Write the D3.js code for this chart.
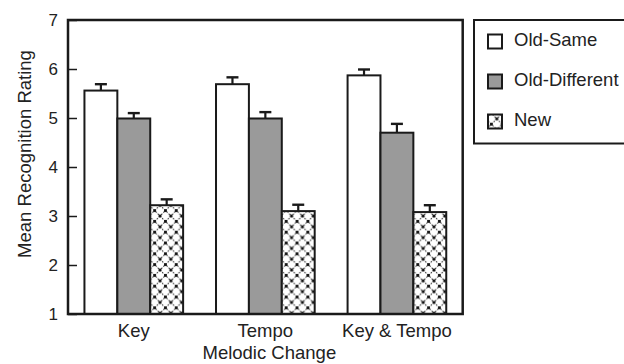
<!DOCTYPE html>
<html>
<head>
<meta charset="utf-8">
<script src="https://cdn.jsdelivr.net/npm/d3@7"></script>
<style>
  body { margin: 0; background: #fff; }
  svg text { font-family: "Liberation Sans", Arial, Helvetica, sans-serif; fill: #222; }
</style>
</head>
<body>
<div id="chart"></div>
<script>
// Datos
const categories = ['Key', 'Tempo', 'Key & Tempo'];
const series = ['Old-Same', 'Old-Different', 'New'];
const oldSame = [5.56, 5.69, 5.87];
const oldDifferent = [4.99, 4.99, 4.70];
const newItems = [3.22, 3.10, 3.08];
const errOldSame = [0.13, 0.14, 0.12];
const errOldDifferent = [0.11, 0.13, 0.18];
const errNew = [0.12, 0.13, 0.14];
const yTicks = [1, 2, 3, 4, 5, 6, 7];

const values = { 'Old-Same': oldSame, 'Old-Different': oldDifferent, 'New': newItems };
const errors = { 'Old-Same': errOldSame, 'Old-Different': errOldDifferent, 'New': errNew };

const W = 624, H = 364;
const plot = { left: 68, right: 462.7, top: 20, bottom: 314 };

const svg = d3.select('#chart').append('svg')
    .attr('width', W)
    .attr('height', H);

// Patrón para "New"
const s = 10.8;
const pat = svg.append('defs').append('pattern')
    .attr('id', 'hatch')
    .attr('patternUnits', 'userSpaceOnUse')
    .attr('width', s)
    .attr('height', s);
pat.append('rect').attr('width', s).attr('height', s).attr('fill', '#fff');
pat.append('path')
    .attr('d', `M0,0L${s},${s}M${s},0L0,${s}`)
    .attr('stroke', '#333')
    .attr('stroke-width', 1)
    .attr('stroke-dasharray', '1.6,1.4');
[[0, 0], [s, 0], [0, s], [s, s], [s / 2, s / 2]].forEach(([cx, cy]) => {
    pat.append('rect')
        .attr('x', cx - 1.4).attr('y', cy - 1.4)
        .attr('width', 2.8).attr('height', 2.8)
        .attr('fill', '#111');
});

const fills = { 'Old-Same': '#ffffff', 'Old-Different': '#9a9a9a', 'New': 'url(#hatch)' };

// Escalas
const x0 = d3.scaleBand()
    .domain(categories)
    .range([plot.left, plot.right])
    .paddingInner(0.25)
    .paddingOuter(0.125);

const x1 = d3.scaleBand()
    .domain(series)
    .range([0, x0.bandwidth()]);

const y = d3.scaleLinear()
    .domain([1, 7])
    .range([plot.bottom, plot.top]);

// Barras
const groups = svg.selectAll('.group')
    .data(categories)
    .enter().append('g')
    .attr('class', 'group')
    .attr('transform', d => `translate(${x0(d)},0)`);

series.forEach(sr => {
    const cx = x1(sr) + x1.bandwidth() / 2;
    groups.append('line')
        .attr('x1', cx)
        .attr('x2', cx)
        .attr('y1', (d, i) => y(values[sr][i]))
        .attr('y2', (d, i) => y(values[sr][i] + errors[sr][i]))
        .attr('stroke', '#1a1a1a')
        .attr('stroke-width', 2.2);
    groups.append('line')
        .attr('x1', cx - 6)
        .attr('x2', cx + 6)
        .attr('y1', (d, i) => y(values[sr][i] + errors[sr][i]))
        .attr('y2', (d, i) => y(values[sr][i] + errors[sr][i]))
        .attr('stroke', '#1a1a1a')
        .attr('stroke-width', 2.4);
    groups.append('rect')
        .attr('x', x1(sr))
        .attr('y', (d, i) => y(values[sr][i]))
        .attr('width', x1.bandwidth())
        .attr('height', (d, i) => plot.bottom - y(values[sr][i]))
        .attr('fill', fills[sr])
        .attr('stroke', '#1a1a1a')
        .attr('stroke-width', 2);
});

// Ejes
const yAxis = svg.append('g')
    .attr('transform', `translate(${plot.left},0)`)
    .call(d3.axisLeft(y).tickValues(yTicks).tickFormat(d3.format('d')).tickSize(-9).tickPadding(10));
yAxis.select('.domain').remove();
yAxis.selectAll('line').attr('stroke', '#1a1a1a').attr('stroke-width', 1.5);
yAxis.selectAll('text').style('font-size', '17px').attr('fill', '#222');

const xAxis = svg.append('g')
    .attr('transform', `translate(0,${plot.bottom})`)
    .call(d3.axisBottom(x0).tickSize(0).tickPadding(9.6));
xAxis.select('.domain').remove();
xAxis.selectAll('text').style('font-size', '18.5px').attr('fill', '#222');

// Marco
svg.append('rect')
    .attr('x', plot.left)
    .attr('y', plot.top)
    .attr('width', plot.right - plot.left)
    .attr('height', plot.bottom - plot.top)
    .attr('fill', 'none')
    .attr('stroke', '#1a1a1a')
    .attr('stroke-width', 2.5);

// Títulos
svg.append('text')
    .attr('x', (plot.left + plot.right) / 2 + 4)
    .attr('y', 358.5)
    .attr('text-anchor', 'middle')
    .style('font-size', '18.5px')
    .text('Melodic Change');

svg.append('text')
    .attr('transform', `translate(31,154) rotate(-90)`)
    .attr('text-anchor', 'middle')
    .style('font-size', '18.5px')
    .text('Mean Recognition Rating');

// Leyenda
const legend = svg.append('g');
legend.append('rect')
    .attr('x', 474).attr('y', 20)
    .attr('width', 170).attr('height', 123.5)
    .attr('fill', '#fff')
    .attr('stroke', '#1a1a1a')
    .attr('stroke-width', 2);

series.forEach((sr, i) => {
    const cy = 40 + i * 40;
    legend.append('rect')
        .attr('x', 488).attr('y', cy - 5.5)
        .attr('width', 14).attr('height', 14)
        .attr('fill', fills[sr])
        .attr('stroke', '#1a1a1a')
        .attr('stroke-width', 2);
    legend.append('text')
        .attr('x', 514).attr('y', cy + 6)
        .style('font-size', '18.5px')
        .text(sr);
});
</script>
</body>
</html>
